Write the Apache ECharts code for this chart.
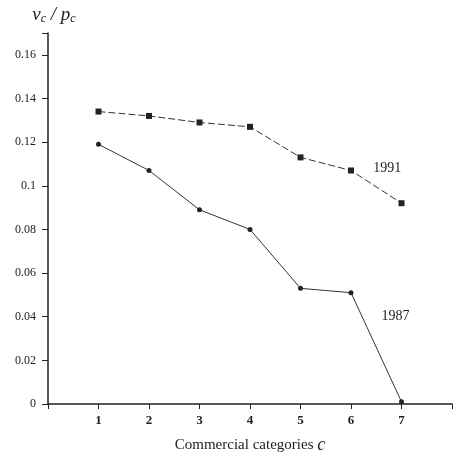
<!DOCTYPE html>
<html>
<head>
<meta charset="utf-8">
<script src="https://cdn.jsdelivr.net/npm/echarts@6/dist/echarts.min.js"></script>
<style>
  html, body { margin: 0; padding: 0; background: #fff; }
  #chart { width: 455px; height: 459px; }
</style>
</head>
<body>
<div id="chart"></div>
<script>
// categories c = 1..7
const categories = [1, 2, 3, 4, 5, 6, 7];
const values1991 = [0.134, 0.132, 0.129, 0.127, 0.113, 0.107, 0.092];
const values1987 = [0.119, 0.107, 0.089, 0.080, 0.053, 0.051, 0.001];
const yTicks = [0, 0.02, 0.04, 0.06, 0.08, 0.1, 0.12, 0.14, 0.16];

const font = "Liberation Serif";
const ink = "#222";

const chart = echarts.init(document.getElementById("chart"));

const toPairs = (vals) => categories.map((c, i) => [c, vals[i]]);

const yearLabel = (text, coord) => ({
  symbol: "circle",
  symbolSize: 1,
  itemStyle: { color: "rgba(0,0,0,0)" },
  data: [{ coord: coord, value: text }],
  label: {
    show: true,
    position: "inside",
    formatter: text,
    fontFamily: font,
    fontSize: 14,
    color: ink,
  },
});

chart.setOption({
  animation: false,
  grid: { left: 48, right: 3, top: 33, bottom: 55, outerBoundsMode: "none" },
  xAxis: {
    type: "value",
    min: 0,
    max: 8,
    interval: 1,
    name: "{t|Commercial categories }{c|c}",
    nameLocation: "middle",
    nameGap: 32,
    nameTextStyle: {
      rich: {
        t: { fontFamily: font, fontSize: 15, color: ink },
        c: { fontFamily: font, fontStyle: "italic", fontSize: 18, color: ink },
      },
    },
    axisLine: { lineStyle: { color: ink, width: 1.5 } },
    axisTick: { show: true, length: 5, lineStyle: { color: ink } },
    axisLabel: {
      fontFamily: font,
      fontSize: 13,
      fontWeight: "bold",
      color: ink,
      margin: 10,
      formatter: (v) => (v >= 1 && v <= 7 ? String(v) : ""),
    },
    splitLine: { show: false },
  },
  yAxis: {
    type: "value",
    min: 0,
    max: 0.17,
    interval: 0.02,
    name: "{v|v}{s|c}{d| / }{v|p}{s|c}",
    nameLocation: "end",
    nameGap: 8,
    nameTextStyle: {
      align: "center",
      padding: [0, 0, 0, 12],
      rich: {
        v: { fontFamily: font, fontStyle: "italic", fontSize: 19, color: ink },
        s: { fontFamily: font, fontStyle: "italic", fontSize: 12, color: ink, verticalAlign: "bottom", padding: [8, 0, 0, 0] },
        d: { fontFamily: font, fontStyle: "italic", fontSize: 19, color: ink },
      },
    },
    axisLine: { show: true, lineStyle: { color: ink, width: 1.5 } },
    axisTick: { show: true, length: 6, lineStyle: { color: ink } },
    axisLabel: {
      fontFamily: font,
      fontSize: 12,
      color: ink,
      margin: 12,
      formatter: (v) => {
        const t = yTicks.find((k) => Math.abs(k - v) < 1e-9);
        return t === undefined ? "" : (t === 0 ? "0" : String(+t.toFixed(2)));
      },
    },
    splitLine: { show: false },
  },
  series: [
    {
      name: "1991",
      type: "line",
      data: toPairs(values1991),
      symbol: "rect",
      symbolSize: 6,
      itemStyle: { color: ink },
      lineStyle: { color: "#333", width: 1, type: [7, 3] },
      markPoint: yearLabel("1991", [6.72, 0.108]),
    },
    {
      name: "1987",
      type: "line",
      data: toPairs(values1987),
      symbol: "circle",
      symbolSize: 5,
      itemStyle: { color: ink },
      lineStyle: { color: "#333", width: 1 },
      markPoint: yearLabel("1987", [6.88, 0.040]),
    },
  ],
});
</script>
</body>
</html>
